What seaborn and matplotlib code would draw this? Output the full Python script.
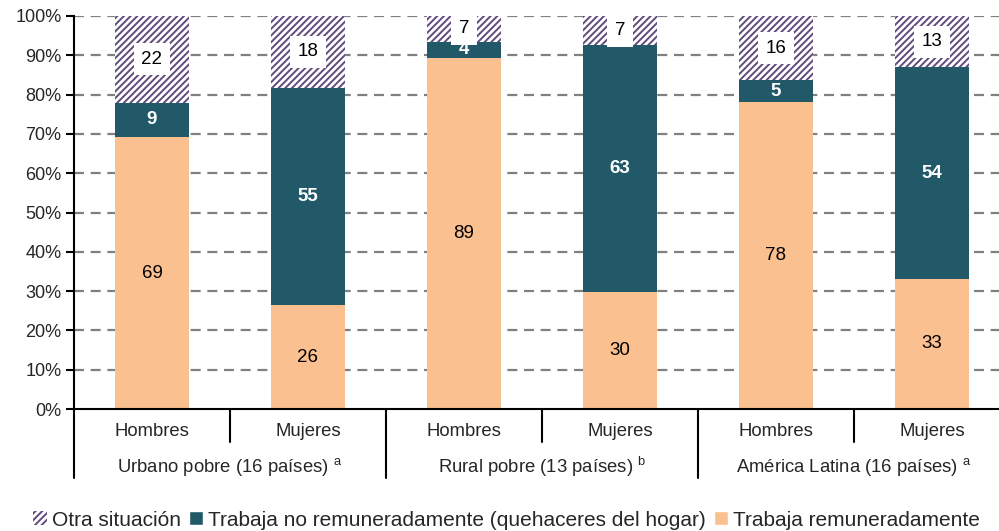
import numpy as np
import pandas as pd
import seaborn as sns
import matplotlib.pyplot as plt
from matplotlib.patches import Patch

# Data (percent of each group)
groups = ["Urbano pobre (16 países)", "Rural pobre (13 países)", "América Latina (16 países)"]
group_notes = ["a", "b", "a"]
sexes = ["Hombres", "Mujeres", "Hombres", "Mujeres", "Hombres", "Mujeres"]
bar_ids = ["UH", "UM", "RH", "RM", "AH", "AM"]
remunerado = [69.2, 26.4, 89.4, 29.8, 78.2, 33.1]
no_remunerado = [8.7, 55.3, 4.0, 62.8, 5.4, 53.9]
otra = [22.1, 18.3, 6.6, 7.4, 16.4, 13.0]

peach = "#FAC090"
teal = "#215968"
purple = "#604A7B"
grid_grey = "#808080"

sns.set_style("white")
plt.rcParams["font.family"] = ["Liberation Sans", "DejaVu Sans"]
plt.rcParams["mathtext.fontset"] = "custom"
plt.rcParams["mathtext.rm"] = "Liberation Sans"
plt.rcParams["hatch.linewidth"] = 1.4
plt.rcParams["hatch.color"] = purple

df = pd.DataFrame({"bar": bar_ids, "rem": remunerado, "norem": no_remunerado, "otra": otra})
df["cum2"] = df["rem"] + df["norem"]
df["cum3"] = df["cum2"] + df["otra"]

fig = plt.figure(figsize=(9.99, 5.31), dpi=100)
ax = fig.add_axes([74 / 999, 122 / 531, 936 / 999, 393 / 531])

bw = 0.48
# layered bars: total (hatched), then rem+norem, then rem
sns.barplot(data=df, x="bar", y="cum3", order=bar_ids, color="white", width=bw,
            edgecolor=purple, linewidth=0, hatch="/////", saturation=1, ax=ax, zorder=3)
sns.barplot(data=df, x="bar", y="cum2", order=bar_ids, color=teal, width=bw,
            linewidth=0, saturation=1, ax=ax, zorder=3)
sns.barplot(data=df, x="bar", y="rem", order=bar_ids, color=peach, width=bw,
            linewidth=0, saturation=1, ax=ax, zorder=3)

# value labels
for i, row in df.iterrows():
    ax.text(i, row["rem"] / 2, f"{row['rem']:.0f}", ha="center", va="center",
            fontsize=13.5, color="black", zorder=5)
    ax.text(i, row["rem"] + row["norem"] / 2, f"{row['norem']:.0f}", ha="center", va="center",
            fontsize=13.5, color="white", fontweight="bold", zorder=5)
    ax.text(i, row["cum2"] + row["otra"] / 2, f"{row['otra']:.0f}", ha="center", va="center",
            fontsize=13.5, color="black", zorder=5,
            bbox=dict(boxstyle="square,pad=0.4", facecolor="white", edgecolor="none"))

ax.set_xlim(-0.5, 5.5)
ax.set_ylim(0, 100)
ax.set_yticks(np.arange(0, 101, 10))
ax.set_yticklabels([f"{v}%" for v in range(0, 101, 10)], fontsize=13)
ax.tick_params(axis="y", which="both", left=True, length=6, width=1.5, color="black", pad=3)
ax.set_xticks([])
ax.set_xlabel("")
ax.set_ylabel("")

for v in range(10, 101, 10):
    ax.axhline(v, color=grid_grey, lw=1.6, ls=(0, (4.5, 3)), zorder=1)

for side in ["top", "right"]:
    ax.spines[side].set_visible(False)
ax.spines["left"].set_linewidth(1.5)
ax.spines["bottom"].set_linewidth(1.5)
ax.spines["left"].set_color("black")
ax.spines["bottom"].set_color("black")
ax.spines["bottom"].set_zorder(6)

tr = ax.get_xaxis_transform()
for i, s in enumerate(sexes):
    ax.text(i, -0.058, s, transform=tr, ha="center", va="center", fontsize=13.3)
for j, (g, n) in enumerate(zip(groups, group_notes)):
    ax.text(2 * j + 0.5, -0.147, g + " $^{\\mathrm{" + n + "}}$", transform=tr,
            ha="center", va="center", fontsize=13.3)
for x in [0.5, 2.5, 4.5]:
    ax.plot([x, x], [0, -0.085], transform=tr, color="black", lw=1.5, clip_on=False)
for x in [-0.5, 1.5, 3.5, 5.5]:
    ax.plot([x, x], [0, -0.175], transform=tr, color="black", lw=1.5, clip_on=False)

handles = [
    Patch(facecolor="white", edgecolor=purple, hatch="/////", linewidth=0, label="Otra situación"),
    Patch(facecolor=teal, label="Trabaja no remuneradamente (quehaceres del hogar)"),
    Patch(facecolor=peach, label="Trabaja remuneradamente"),
]
fig.legend(handles=handles, loc="center", bbox_to_anchor=(0.507, 11 / 531), ncol=3,
           frameon=False, fontsize=15, handlelength=0.65, handleheight=0.65,
           handletextpad=0.25, columnspacing=0.4)

fig.savefig("out.png", dpi=100)
